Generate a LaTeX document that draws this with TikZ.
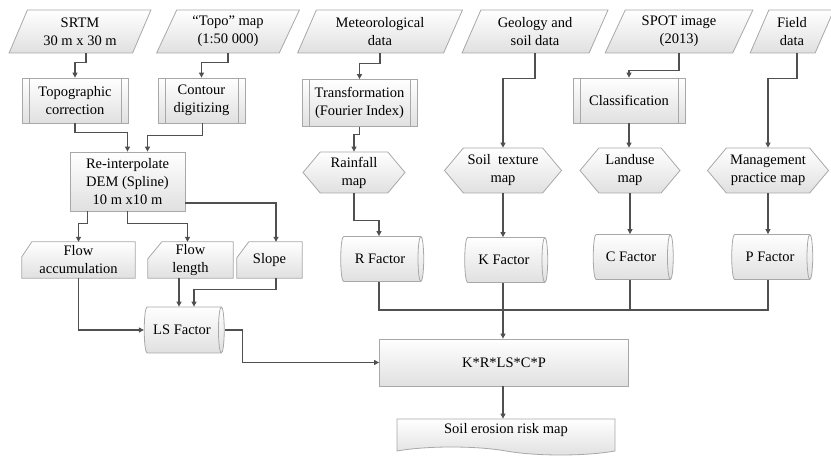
\documentclass[tikz,border=0pt]{standalone}
\usepackage{fontspec}
\setmainfont{Liberation Serif}
\usetikzlibrary{shapes.geometric,shapes.symbols,arrows.meta,calc,backgrounds}
\definecolor{bord}{HTML}{A8A8A8}
\definecolor{lin}{HTML}{505050}
\definecolor{fillb}{HTML}{E0E0E0}
\begin{document}
\begin{tikzpicture}[x=1pt,y=-1pt, font=\fontsize{14.5}{18}\selectfont,
 base/.style={draw=bord, line width=0.8pt, top color=white, bottom color=fillb, align=center, inner sep=2pt},
 data/.style={base, trapezium, trapezium left angle=67, trapezium right angle=113, trapezium stretches=true, minimum height=43pt},
 proc/.style={base, rectangle, minimum height=45pt, path picture={\draw[bord, line width=0.8pt] ([xshift=7pt]path picture bounding box.north west) -- ([xshift=7pt]path picture bounding box.south west) ([xshift=-7pt]path picture bounding box.north east) -- ([xshift=-7pt]path picture bounding box.south east);}},
 disp/.style={base, signal, signal to=west and east, signal pointer angle=100, minimum height=45pt},
 stor/.style={base, cylinder, aspect=0.42, minimum width=45pt},
 cardt/.style={align=center, inner sep=2pt, minimum height=36pt},
 cardsh/.style={draw=bord, line width=0.8pt, top color=white, bottom color=fillb},
 boxr/.style={base, rectangle},
 doc/.style={base, tape, tape bend top=none, tape bend bottom=out and in, tape bend height=8pt},
 arr/.style={draw=lin, line width=1.1pt, -{Triangle[length=5pt,width=5pt]}},
 ln/.style={draw=lin, line width=1.1pt}
]
\useasboundingbox (0,0) rectangle (831,457);
% inputs
\node[data, minimum width=142pt] (srtm) at (80,31.5) {SRTM\\30 m x 30 m};
\node[data, minimum width=143pt] (topo) at (228,31.5) {“Topo” map\\(1:50 000)};
\node[data, minimum width=165pt] (meteo) at (380,31.5) {Meteorological\\data};
\node[data, minimum width=146pt] (geo) at (535,31.5) {Geology and\\soil data};
\node[data, minimum width=148pt] (spot) at (679,31.5) {SPOT image\\(2013)};
\node[data, minimum width=84pt] (field) at (792,31.5) {Field\\data};
% processes
\node[proc, minimum width=106pt] (tc) at (75,100.5) {Topographic\\correction};
\node[proc, minimum width=87pt] (cd) at (201.5,100.5) {Contour\\digitizing};
\node[proc, minimum width=115pt, minimum height=47pt] (tf) at (359.5,103) {Transformation\\(Fourier Index)};
\node[proc, minimum width=112pt] (cl) at (629,100.5) {Classification};
\node[boxr, minimum width=115pt, minimum height=59pt] (dem) at (127.5,181.5) {Re-interpolate\\DEM (Spline)\\10 m x10 m};
% maps
\node[disp, minimum width=102pt, minimum height=41pt] (rain) at (354,172.5) {Rainfall\\map};
\node[disp, minimum width=117pt] (soilt) at (503,170.5) {Soil~ texture\\map};
\node[disp, minimum width=100pt] (land) at (630,170.5) {Landuse\\map};
\node[disp, minimum width=121pt] (mgmt) at (768,170.5) {Management\\practice map};
% factors
\node[stor, minimum height=83pt] (R) at (380,259) {R Factor};
\node[stor, minimum height=83pt] (K) at (504,260) {K Factor};
\node[stor, minimum height=80pt] (C) at (631,257) {C Factor};
\node[stor, minimum height=81pt] (P) at (770,257) {P Factor};
\node[cardt, minimum width=113pt] (fa) at (78.5,260) {Flow\\accumulation};
\node[cardt, minimum width=85pt] (fl) at (190.5,260) {Flow\\length};
\node[cardt, minimum width=65pt] (sl) at (269.5,260) {Slope};
\begin{scope}[on background layer]
\shadedraw[cardsh] (fa.south west) -- (fa.south east) -- (fa.north east) -- ([xshift=10pt]fa.north west) -- ([yshift=-15pt]fa.north west) -- cycle;
\shadedraw[cardsh] (fl.south west) -- (fl.south east) -- (fl.north east) -- ([xshift=14pt]fl.north west) -- ([yshift=-17pt]fl.north west) -- cycle;
\shadedraw[cardsh] (sl.south west) -- (sl.south east) -- (sl.north east) -- ([xshift=12pt]sl.north west) -- ([yshift=-16pt]sl.north west) -- cycle;
\end{scope}
\node[stor, minimum height=80pt, minimum width=46pt] (LS) at (182,330) {LS Factor};
\node[boxr, minimum width=249pt, minimum height=47pt] (kr) at (504,362.5) {K*R*LS*C*P};
\node[doc, minimum width=218pt, minimum height=36pt, text depth=10pt] (soil) at (506,433) {Soil erosion risk map};
\coordinate (bus) at (0,310);
% connectors
\draw[arr] ([xshift=6pt]srtm.south) -- ++(0,9) -| (tc.north);
\draw[arr] (topo.south) -- ++(0,9) -| (cd.north);
\draw[arr] (tc.south) -- ++(0,9) -| (dem.north);
\draw[arr] ([xshift=1pt]cd.south) -- ++(0,12) -| ([xshift=20pt]dem.north);
\draw[arr] ([xshift=-40pt]dem.south) -- ++(0,12) -| (fa.north);
\draw[arr] (dem.south) -- ++(0,12) -| ([xshift=-3pt]fl.north);
\draw[arr] ([yshift=-21.5pt]dem.east) -| ([xshift=6.5pt]sl.north);
\draw[arr] ([xshift=-11.5pt]fl.south) -- ([xshift=-11.5pt]fl.south |- LS.north);
\draw[arr] ([xshift=6.5pt]sl.south) -- ++(0,11) -| ([xshift=12pt]LS.north);
\draw[arr] (fa.south) |- (LS.west);
\draw[arr] (LS.east) -- ++(18,0) |- (kr.west);
\draw[arr] (meteo.south) -- ++(0,10) -| (tf.north);
\draw[arr] (tf.south) -- ++(0,8) -| (rain.north);
\draw[arr] (geo.south) -- ++(0,25) -| (soilt.north);
\draw[arr] (spot.south) -- ++(0,17) -| (cl.north);
\draw[arr] (cl.south) -- (cl.south |- land.north);
\draw[arr] ([xshift=5pt]field.south) -- ++(0,25) -| (mgmt.north);
\draw[arr] (rain.south) -- ++(0,27) -| ([xshift=-1pt]R.north);
\draw[arr] (soilt.south) -- (soilt.south |- K.north);
\draw[arr] (land.south) -- (land.south |- C.north);
\draw[arr] (mgmt.south) -- (mgmt.south |- P.north);
\draw[ln] ([xshift=-1pt]R.south) -- ([xshift=-1pt]R.south |- bus) -- (mgmt.south |- bus) -- (mgmt.south |- P.south);
\draw[ln] (land.south |- C.south) -- (land.south |- bus);
\draw[arr] (soilt.south |- K.south) -- (soilt.south |- kr.north);
\draw[arr] (soilt.south |- kr.south) -- (soilt.south |- soil.north);
\end{tikzpicture}
\end{document}
